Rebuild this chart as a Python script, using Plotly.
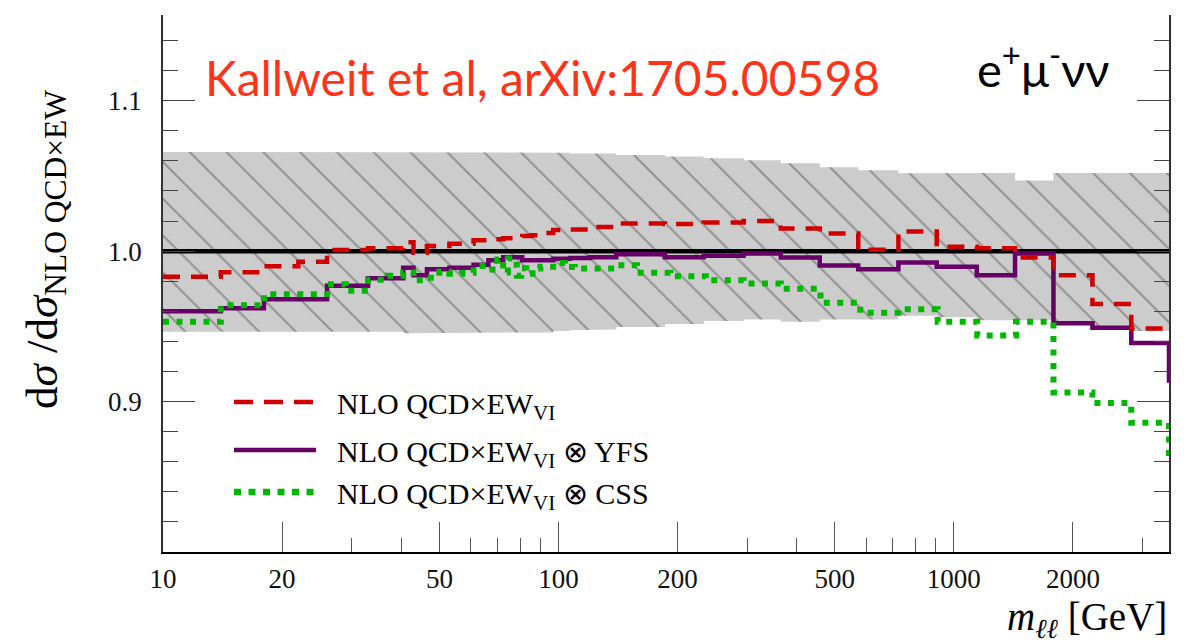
import numpy as np
import plotly.graph_objects as go

# ---------------- data ----------------
x_range = [10, 3500]
y_range = [0.8, 1.157]

bin_edges = [10, 14, 18, 22, 26, 33, 40.5, 43, 46.5, 53, 61, 66.5, 72.5, 81, 85.5, 91, 97,
             107, 120, 140, 186, 233, 294, 365, 458, 573, 724, 905, 1143, 1428, 1786,
             2241, 2810, 3500, 4400]

nlo_vi = [0.983, 0.986, 0.990, 0.993, 1.0007, 1.002, 1.006, 0.999, 1.0035, 1.005,
          1.0073, 1.008, 1.0085, 1.010, 1.0106, 1.012, 1.014, 1.0144, 1.016, 1.0184,
          1.018, 1.019, 1.020, 1.015, 1.0117, 1.001, 1.013, 1.003, 1.002, 0.9958,
          0.984, 0.9648, 0.9486, 0.946]

nlo_vi_yfs = [0.960, 0.962, 0.968, 0.968, 0.977, 0.982, 0.989, 0.984, 0.988, 0.989,
              0.991, 0.994, 0.996, 0.994, 0.994, 0.994, 0.995, 0.9955, 0.996, 0.998,
              0.996, 0.997, 0.9985, 0.9958, 0.9905, 0.988, 0.9925, 0.9896, 0.984, 0.9985,
              0.952, 0.949, 0.939, 0.914]

band_upper = [1.066, 1.066, 1.066, 1.066, 1.066, 1.066, 1.0658, 1.0658, 1.0658, 1.0658,
              1.0658, 1.0658, 1.0658, 1.0658, 1.0658, 1.0658, 1.0655, 1.065, 1.065, 1.064,
              1.063, 1.0618, 1.0605, 1.0585, 1.0558, 1.0538, 1.0518, 1.0516, 1.052, 1.047,
              1.052, 1.052, 1.052, 1.052]

band_lower = [0.9465, 0.9465, 0.9465, 0.9465, 0.9465, 0.9465, 0.9455, 0.9455, 0.9455, 0.9455,
              0.9455, 0.9455, 0.946, 0.946, 0.946, 0.946, 0.947, 0.9475, 0.948, 0.9495,
              0.9515, 0.9535, 0.9545, 0.953, 0.9546, 0.9546, 0.957, 0.956, 0.954, 0.954,
              0.952, 0.950, 0.947, 0.947]

css_edges = [10, 14, 18, 26, 29, 33, 37, 40.5, 43, 46.5, 50, 53, 57, 61, 66.5, 70, 72.5,
             74.5, 76.5, 78.5, 80.5, 83, 86, 90, 97, 104, 110, 140, 158, 192, 236, 294,
             365, 460, 580, 724, 910, 1146, 1436, 1786, 2241, 2810, 3500, 4400]

nlo_vi_css = [0.953, 0.964, 0.9714, 0.978, 0.9736, 0.981, 0.9836, 0.9858, 0.9807, 0.9823,
              0.9863, 0.985, 0.9856, 0.9902, 0.9878, 0.9945, 0.9858, 0.9951, 0.991, 0.9836,
              0.9886, 0.985, 0.9885, 0.9896, 0.9922, 0.9894, 0.9885, 0.9907, 0.9856, 0.9834,
              0.9807, 0.9785, 0.975, 0.9657, 0.959, 0.9613, 0.953, 0.944, 0.953, 0.906,
              0.899, 0.886, 0.862]

x_tick_vals = [10, 20, 50, 100, 200, 500, 1000, 2000]
x_tick_text = ["10", "20", "50", "100", "200", "500", "1000", "2000"]
x_minor_vals = [30, 40, 60, 70, 80, 90, 300, 400, 600, 700, 800, 900, 3000]
y_tick_vals = [0.9, 1.0, 1.1]
y_tick_text = ["0.9", "1.0", "1.1"]

legend_labels = ["NLO QCD×EW<sub>VI</sub>",
                 "NLO QCD×EW<sub>VI</sub> ⊗ YFS",
                 "NLO QCD×EW<sub>VI</sub> ⊗ CSS"]

# ---------------- styles ----------------
RED = "#d10000"
PURPLE = "#660066"
GREEN = "#00b800"
RED_DASH = "17px,11px"
GREEN_DOT = "6px,7.5px"
SERIF = "Liberation Serif"


def step(edges, vals):
    return list(edges), list(vals) + [vals[-1]]


fig = go.Figure()

# uncertainty band (hatched)
bx, by = [], []
for i in range(len(band_upper)):
    bx += [bin_edges[i], bin_edges[i + 1]]
    by += [band_upper[i], band_upper[i]]
for i in reversed(range(len(band_lower))):
    bx += [bin_edges[i + 1], bin_edges[i]]
    by += [band_lower[i], band_lower[i]]
fig.add_trace(go.Scatter(
    x=bx, y=by, mode="lines", fill="toself", line=dict(width=0),
    fillcolor="#cccccc",
    fillpattern=dict(shape="\\", bgcolor="#cccccc", fgcolor="#5a5a5a",
                     size=26, solidity=0.08),
    hoverinfo="skip"))

# reference line at 1
fig.add_trace(go.Scatter(x=[bin_edges[0], bin_edges[-1]], y=[1.0, 1.0], mode="lines",
                         line=dict(color="black", width=4.5)))

sx, sy = step(bin_edges, nlo_vi_yfs)
fig.add_trace(go.Scatter(x=sx, y=sy, mode="lines", line_shape="hv",
                         line=dict(color=PURPLE, width=4.5)))
sx, sy = step(bin_edges, nlo_vi)
fig.add_trace(go.Scatter(x=sx, y=sy, mode="lines", line_shape="hv",
                         line=dict(color=RED, width=4.5, dash=RED_DASH)))
sx, sy = step(css_edges, nlo_vi_css)
fig.add_trace(go.Scatter(x=sx, y=sy, mode="lines", line_shape="hv",
                         line=dict(color=GREEN, width=6, dash=GREEN_DOT)))

# ---------------- layout ----------------
L, R, T, B = 163, 26, 15, 92
W, H = 1195, 644
pw, ph = W - L - R, H - T - B


def px_x(x):
    return (x - L) / pw


def px_y(y):
    return (H - B - y) / ph


annotations = [
    dict(text="Kallweit et al, arXiv:1705.00598", x=px_x(203), y=px_y(77),
         xanchor="left", yanchor="middle",
         font=dict(family="Lato, Open Sans", size=48, color="#ff3319")),
    dict(text="e<sup>+</sup>μ<sup>-</sup>νν", x=px_x(975), y=px_y(66),
         xanchor="left", yanchor="middle",
         font=dict(family="Lato, Open Sans", size=47, color="black")),
    dict(text="d<i>σ</i> /d<i>σ</i><sub>NLO QCD×EW</sub>", x=px_x(45), y=px_y(250),
         xanchor="center", yanchor="middle", textangle=-90,
         font=dict(family=SERIF, size=45, color="black")),
    dict(text="<i>m</i><sub><i>ℓℓ</i></sub> [GeV]", x=px_x(1168), y=px_y(619),
         xanchor="right", yanchor="middle", borderpad=0,
         font=dict(family=SERIF, size=39, color="black")),
]
legend_rows = [402, 450, 492]
for lab, yy in zip(legend_labels, legend_rows):
    annotations.append(dict(text=lab, x=px_x(335), y=px_y(yy + 4), xanchor="left",
                            yanchor="middle",
                            font=dict(family=SERIF, size=30, color="black")))
for a in annotations:
    a.update(xref="paper", yref="paper", showarrow=False)

shapes = [
    dict(type="line", xref="paper", yref="paper", x0=px_x(234), x1=px_x(316),
         y0=px_y(legend_rows[0]), y1=px_y(legend_rows[0]),
         line=dict(color=RED, width=4.5, dash="19px,11px")),
    dict(type="line", xref="paper", yref="paper", x0=px_x(234), x1=px_x(316),
         y0=px_y(legend_rows[1]), y1=px_y(legend_rows[1]),
         line=dict(color=PURPLE, width=4.5)),
    dict(type="line", xref="paper", yref="paper", x0=px_x(234), x1=px_x(316),
         y0=px_y(legend_rows[2]), y1=px_y(legend_rows[2]),
         line=dict(color=GREEN, width=6.5, dash="7px,7.5px")),
]

fig.update_layout(
    width=W, height=H, margin=dict(l=L, r=R, t=T, b=B, pad=0),
    paper_bgcolor="white", plot_bgcolor="white", showlegend=False,
    annotations=annotations, shapes=shapes,
    xaxis=dict(type="log", range=[np.log10(x_range[0]), np.log10(x_range[1])],
               showgrid=False, zeroline=False, showline=True, linecolor="black",
               linewidth=1.5, ticks="inside", ticklen=30, tickwidth=1.2,
               tickcolor="#555555", tickmode="array", tickvals=x_tick_vals,
               ticktext=x_tick_text, ticklabelstandoff=2,
               tickfont=dict(family=SERIF, size=27, color="#111111"),
               minor=dict(ticks="inside", ticklen=14, tickwidth=1.2, tickcolor="#555555",
                          tickmode="array", tickvals=x_minor_vals, showgrid=False)),
    yaxis=dict(range=y_range, showgrid=False, zeroline=False, showline=True,
               linecolor="#333333", linewidth=1.5, mirror="ticks", ticks="inside",
               ticklen=32, tickwidth=1.2, tickcolor="#444444", tickmode="array",
               tickvals=y_tick_vals, ticktext=y_tick_text, ticklabelstandoff=14,
               tickfont=dict(family=SERIF, size=27, color="#111111"),
               minor=dict(ticks="inside", ticklen=15, tickwidth=1.2, tickcolor="#444444",
                          dtick=0.02, tick0=0.8, showgrid=False)),
)

fig.write_html("out.html")
